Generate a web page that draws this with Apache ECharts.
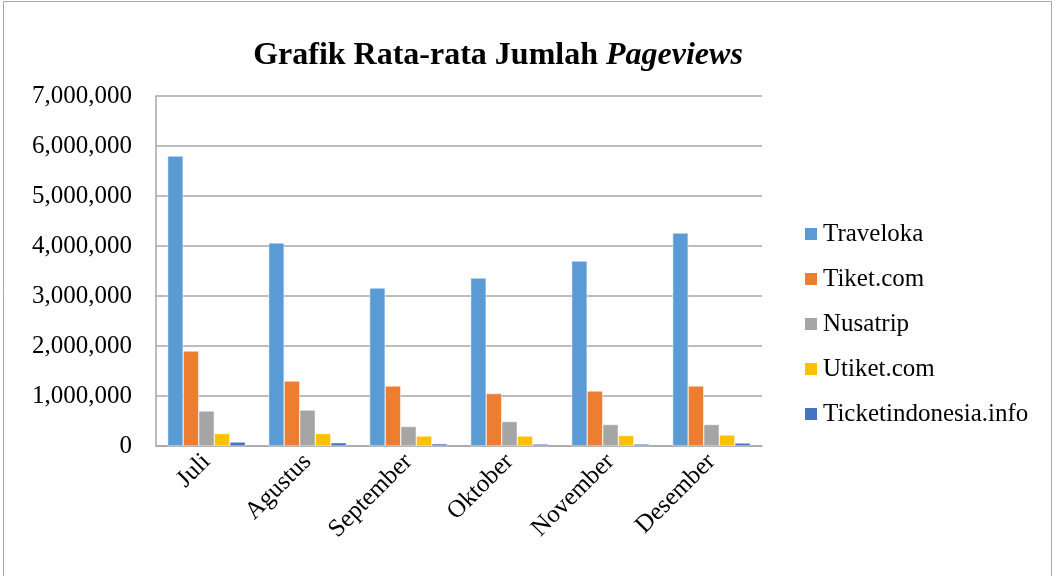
<!DOCTYPE html>
<html>
<head>
<meta charset="utf-8">
<script src="https://cdn.jsdelivr.net/npm/echarts@6/dist/echarts.min.js"></script>
<style>
  html, body { margin: 0; padding: 0; background: #fff; }
  #chart { width: 1055px; height: 576px; }
</style>
</head>
<body>
<div id="chart"></div>
<script>
var months = ["Juli", "Agustus", "September", "Oktober", "November", "Desember"];
var seriesNames = ["Traveloka", "Tiket.com", "Nusatrip", "Utiket.com", "Ticketindonesia.info"];
var traveloka = [5800000, 4060000, 3160000, 3360000, 3700000, 4260000];
var tiketCom = [1900000, 1300000, 1200000, 1050000, 1100000, 1200000];
var nusatrip = [700000, 720000, 390000, 490000, 430000, 430000];
var utiketCom = [250000, 250000, 200000, 200000, 210000, 220000];
var ticketIndonesia = [80000, 65000, 45000, 40000, 40000, 60000];
var colors = ["#5B9BD5", "#ED7D31", "#A5A5A5", "#FFC000", "#4472C4"];

var values = [traveloka, tiketCom, nusatrip, utiketCom, ticketIndonesia];
var font = "Liberation Serif, Times New Roman, serif";

var chart = echarts.init(document.getElementById("chart"));
var series = [];
for (var i = 0; i < seriesNames.length; i++) {
    series.push({
        name: seriesNames[i],
        type: "bar",
        data: values[i],
        barGap: "0%",
        barCategoryGap: "23%",
        itemStyle: { color: colors[i], borderColor: "#fff", borderWidth: 0.5 }
    });
}

chart.setOption({
    animation: false,
    textStyle: { fontFamily: font, color: "#000" },
    color: colors,
    title: {
        left: 493,
        textAlign: "center",
        top: 35,
        text: "{b|Grafik Rata-rata Jumlah }{bi|Pageviews}",
        textStyle: {
            rich: {
                b: { fontFamily: font, fontWeight: "bold", fontSize: 32, color: "#000" },
                bi: { fontFamily: font, fontWeight: "bold", fontStyle: "italic", fontSize: 32, color: "#000" }
            }
        }
    },
    legend: {
        orient: "vertical",
        left: 798,
        top: 216,
        icon: "rect",
        itemWidth: 14,
        itemHeight: 14,
        itemGap: 19,
        textStyle: { fontFamily: font, fontSize: 25, color: "#000", lineHeight: 26 },
        data: seriesNames
    },
    grid: { left: 156, right: 293, top: 96, bottom: 130, containLabel: false },
    xAxis: {
        type: "category",
        data: months,
        axisLine: { lineStyle: { color: "#A6A6A6", width: 1.5 } },
        axisTick: { show: false },
        axisLabel: { rotate: 45, fontFamily: font, fontSize: 25, color: "#000", margin: 12 }
    },
    yAxis: {
        type: "value",
        min: 0,
        max: 7000000,
        interval: 1000000,
        axisLine: { show: true, lineStyle: { color: "#A6A6A6", width: 1.5 } },
        splitLine: { lineStyle: { color: "#A6A6A6", width: 1.5 } },
        axisLabel: {
            fontFamily: font, fontSize: 25, color: "#000", margin: 24,
            formatter: function (v) { return v.toLocaleString("en-US"); }
        }
    },
    graphic: [{
        type: "rect",
        shape: { x: 3.5, y: 1.5, width: 1048, height: 590 },
        style: { fill: null, stroke: "#A6A6A6", lineWidth: 1 },
        silent: true
    }],
    series: series
});
</script>
</body>
</html>
